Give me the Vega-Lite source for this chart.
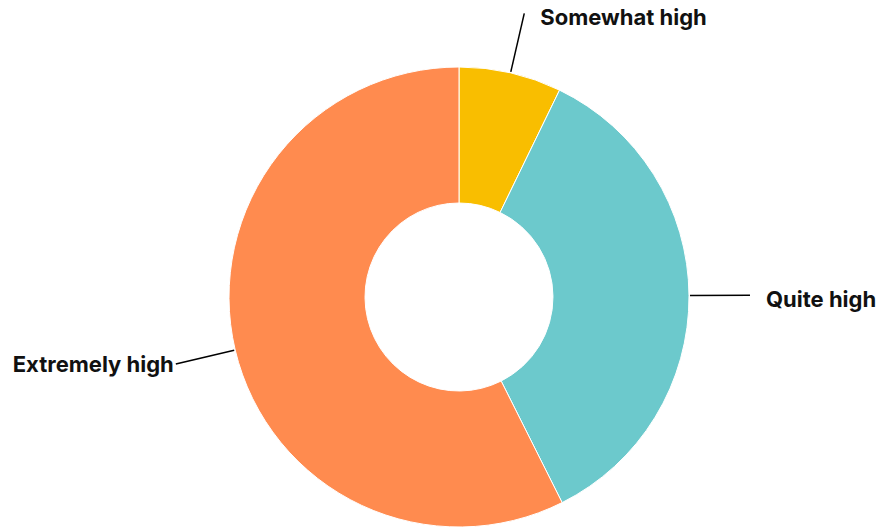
{
  "$schema": "https://vega.github.io/schema/vega-lite/v6.json",
  "width": 836,
  "height": 460,
  "autosize": {"type": "none"},
  "padding": {"left": 41, "top": 67, "right": 4, "bottom": 0},
  "background": "white",
  "config": {"view": {"stroke": null}},
  "data": {
    "values": [
      {"level": "Somewhat high", "value": 7.2},
      {"level": "Quite high", "value": 35.4},
      {"level": "Extremely high", "value": 57.4}
    ]
  },
  "transform": [
    {"window": [{"op": "sum", "field": "value", "as": "cum"}], "frame": [null, 0]},
    {"calculate": "datum.cum - datum.value", "as": "start"},
    {"calculate": "(datum.start + datum.value / 2) / 100 * 2 * PI", "as": "mid"},
    {"calculate": "231 * sin(datum.mid)", "as": "lx1"},
    {"calculate": "231 * cos(datum.mid)", "as": "ly1"},
    {"calculate": "291 * sin(datum.mid)", "as": "lx2"},
    {"calculate": "291 * cos(datum.mid)", "as": "ly2"}
  ],
  "layer": [
    {
      "mark": {"type": "arc", "radius": 230, "radius2": 94, "stroke": "white", "strokeWidth": 1},
      "encoding": {
        "theta": {"field": "start", "type": "quantitative", "scale": {"domain": [0, 100]}},
        "theta2": {"field": "cum"},
        "color": {
          "field": "level",
          "type": "nominal",
          "legend": null,
          "scale": {
            "domain": ["Somewhat high", "Quite high", "Extremely high"],
            "range": ["#F9BE00", "#6CC9CC", "#FF8B4F"]
          }
        }
      }
    },
    {
      "mark": {"type": "rule", "color": "black", "strokeWidth": 1.5},
      "encoding": {
        "x": {"field": "lx1", "type": "quantitative", "scale": {"domain": [-418, 418], "nice": false, "zero": false}, "axis": null},
        "y": {"field": "ly1", "type": "quantitative", "scale": {"domain": [-230, 230], "nice": false, "zero": false}, "axis": null},
        "x2": {"field": "lx2"},
        "y2": {"field": "ly2"}
      }
    },
    {
      "transform": [{"filter": "sin(datum.mid) > 0"}],
      "mark": {"type": "text", "align": "left", "baseline": "alphabetic", "dx": 16, "dy": 11.5, "font": "Inter", "fontWeight": "bold", "fontSize": 22, "color": "#111111"},
      "encoding": {
        "x": {"field": "lx2", "type": "quantitative"},
        "y": {"field": "ly2", "type": "quantitative"},
        "text": {"field": "level"}
      }
    },
    {
      "transform": [{"filter": "sin(datum.mid) <= 0"}],
      "mark": {"type": "text", "align": "right", "baseline": "alphabetic", "dx": -2, "dy": 8, "font": "Inter", "fontWeight": "bold", "fontSize": 22, "color": "#111111"},
      "encoding": {
        "x": {"field": "lx2", "type": "quantitative"},
        "y": {"field": "ly2", "type": "quantitative"},
        "text": {"field": "level"}
      }
    }
  ]
}
